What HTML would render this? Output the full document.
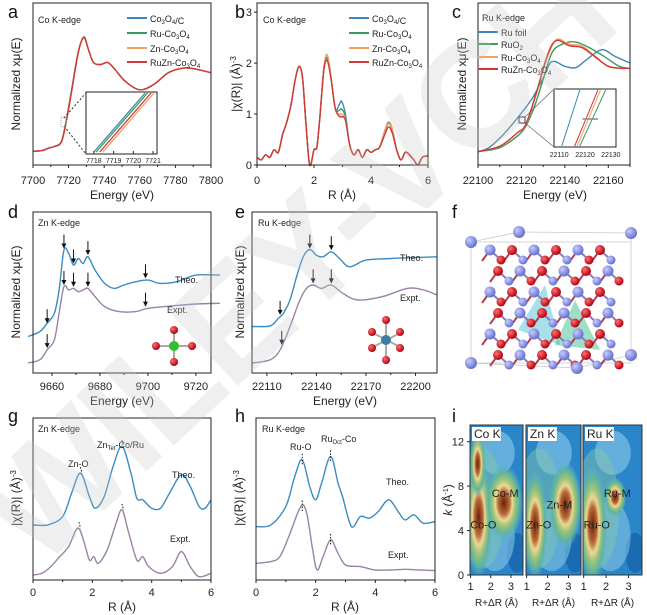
<!DOCTYPE html>
<html><head><meta charset="utf-8">
<style>
body{margin:0;background:#fff;}
svg{display:block;font-family:"Liberation Sans",sans-serif;}
.tk{font-size:11px;fill:#222;}
.tt{font-size:12px;fill:#222;}
.sm{font-size:9px;fill:#222;}
.pl{font-size:18px;fill:#111;}
</style></head>
<body>
<svg id="fig" width="647" height="615" viewBox="0 0 647 615" xmlns="http://www.w3.org/2000/svg">
<defs>
<radialGradient id="hot" cx="50%" cy="50%" r="50%">
<stop offset="0" stop-color="#6a2008"/><stop offset="0.3" stop-color="#b86a38"/><stop offset="0.45" stop-color="#ecd896"/><stop offset="0.6" stop-color="#9ec47a"/><stop offset="0.78" stop-color="#62b498"/><stop offset="1" stop-color="#58b0d8" stop-opacity="0"/>
</radialGradient>
<radialGradient id="ball-b" cx="35%" cy="35%" r="65%"><stop offset="0" stop-color="#c8ccff"/><stop offset="1" stop-color="#6670d0"/></radialGradient>
<radialGradient id="ball-r" cx="35%" cy="35%" r="65%"><stop offset="0" stop-color="#ff7070"/><stop offset="1" stop-color="#b00010"/></radialGradient>
<clipPath id="ci1"><rect x="470" y="425" width="53" height="150"/></clipPath>
<clipPath id="ci2"><rect x="526" y="425" width="55" height="150"/></clipPath>
<clipPath id="ci3"><rect x="583" y="425" width="59" height="150"/></clipPath>
</defs>
<g id="root"></g>
</svg>
<script>
// ---------- data ----------
const aX=[7700,7705,7709,7712,7716,7719,7722,7725,7727,7729,7731,7734,7738,7742,7746,7752,7760,7768,7776,7785,7792,7800];
const aCo=[0,0.01,0.05,0.07,0.15,0.5,0.95,1.4,1.6,1.66,1.5,1.3,1.27,1.3,1.2,1.02,0.9,0.98,1.15,1.22,1.2,1.15];
const aRu=[0,0.01,0.05,0.07,0.15,0.49,0.94,1.4,1.6,1.65,1.5,1.3,1.27,1.3,1.2,1.02,0.9,0.98,1.15,1.22,1.2,1.15];
const aZn=[0,0.01,0.05,0.07,0.14,0.47,0.92,1.38,1.6,1.66,1.5,1.3,1.27,1.3,1.2,1.02,0.9,0.98,1.15,1.22,1.2,1.15];
const aRuZn=[0,0.01,0.05,0.07,0.14,0.48,0.93,1.39,1.6,1.67,1.5,1.3,1.27,1.3,1.2,1.02,0.9,0.98,1.15,1.22,1.2,1.15];
const aInsetX=[7718,7720.6];
const aInsetOff=[0,0.12,0.3,0.45];

const bX=[0,0.15,0.3,0.45,0.6,0.75,0.9,1.05,1.2,1.35,1.48,1.6,1.72,1.85,2.0,2.1,2.2,2.35,2.47,2.6,2.75,2.9,2.97,3.1,3.25,3.4,3.55,3.7,3.85,4.0,4.15,4.3,4.5,4.62,4.75,4.9,5.05,5.2,5.35,5.5,5.65,5.8,6];
const bCo=[0.15,0.1,0.2,0.15,0.3,0.25,0.6,0.85,1.2,1.7,1.93,1.7,0.8,0.0,0.3,0.35,0.9,1.9,2.08,1.7,1.1,1.2,1.25,1.0,0.4,0.2,0.3,0.15,0.3,0.25,0.3,0.35,0.7,0.85,0.7,0.3,0.1,0.25,0.2,0.1,0.0,0.15,0.18];
const bRu=[0.15,0.1,0.2,0.15,0.3,0.25,0.6,0.85,1.2,1.7,1.93,1.7,0.8,0.0,0.3,0.35,0.9,1.92,2.1,1.7,1.1,1.08,1.1,0.95,0.4,0.2,0.3,0.15,0.3,0.25,0.3,0.35,0.68,0.82,0.68,0.3,0.1,0.25,0.2,0.1,0.0,0.15,0.18];
const bZn=[0.15,0.1,0.2,0.15,0.3,0.25,0.6,0.85,1.2,1.7,1.95,1.7,0.8,0.0,0.3,0.35,0.9,1.95,2.16,1.72,1.1,1.0,1.0,0.9,0.4,0.2,0.3,0.15,0.3,0.25,0.3,0.35,0.7,0.85,0.7,0.3,0.1,0.25,0.2,0.1,0.0,0.15,0.18];
const bRuZn=[0.15,0.1,0.2,0.15,0.3,0.25,0.6,0.85,1.2,1.7,1.93,1.7,0.8,0.0,0.3,0.35,0.9,1.88,2.04,1.68,1.1,0.95,0.95,0.88,0.4,0.2,0.3,0.15,0.3,0.25,0.3,0.35,0.62,0.75,0.62,0.3,0.1,0.25,0.2,0.1,0.0,0.15,0.18];

const cFoilX=[22100,22105,22110,22115,22120,22125,22130,22134,22140,22145,22150,22157,22163,22170];
const cFoil=[0.02,0.08,0.22,0.4,0.6,0.82,1.12,1.37,1.3,1.28,1.4,1.55,1.45,1.35];
const cOxX=[22100,22110,22118,22122,22126,22130,22134,22138,22144,22150,22158,22165,22170];
const cOx=[0.02,0.08,0.25,0.4,0.7,1.1,1.5,1.62,1.67,1.6,1.45,1.3,1.27];
const cRuX=[22100,22110,22118,22122,22127,22131,22134,22137,22142,22148,22154,22160,22166,22170];
const cRu=[0.02,0.1,0.3,0.42,0.9,1.35,1.6,1.71,1.63,1.6,1.45,1.3,1.27,1.27];
const cRuZn=[0.02,0.1,0.3,0.43,0.92,1.37,1.62,1.69,1.61,1.58,1.44,1.3,1.27,1.27];

const dTheoX=[9650,9655,9658,9661,9663,9665,9667,9669,9671,9673,9675,9678,9682,9686,9690,9695,9700,9705,9712,9720,9730];
const dTheo=[1.10,1.25,1.5,1.8,2.5,3.7,3.6,3.25,3.45,3.3,3.5,3.1,2.7,2.55,2.65,2.75,2.8,2.7,2.75,2.95,2.95];
const dExpX=[9650,9655,9658,9661,9663,9665,9667,9669,9671,9673,9675,9678,9682,9688,9695,9700,9710,9720,9730];
const dExp=[0.3,0.4,0.7,1.0,1.8,2.6,2.5,2.55,2.45,2.5,2.55,2.3,2.0,1.85,1.85,1.95,2.02,2.08,2.1];
const dArrX=[9658,9665,9669,9675,9699,9658,9665,9669,9675,9699];
const dArrY=[1.5,3.75,3.3,3.55,2.85,0.75,2.65,2.6,2.6,2.0];

const eTheoX=[22101,22112,22117,22120,22124,22128,22132,22136,22140,22144,22149,22154,22160,22170,22185,22213];
const eTheo=[1.4,1.42,1.65,1.8,2.2,2.9,3.5,3.72,3.55,3.5,3.65,3.45,3.2,3.4,3.45,3.5];
const eExpX=[22101,22112,22118,22124,22130,22134,22138,22143,22149,22156,22165,22180,22195,22205,22213];
const eExp=[0.3,0.4,0.7,1.4,2.2,2.55,2.65,2.55,2.65,2.4,2.2,2.3,2.55,2.5,2.35];
const eArrX=[22118,22136,22149,22119,22138,22149];
const eArrY=[1.75,3.75,3.7,0.85,2.7,2.7];

const gX=[0,0.5,1.0,1.3,1.6,1.9,2.1,2.4,2.7,3.0,3.3,3.5,3.7,4.0,4.3,4.6,5.0,5.3,5.6,5.8,6.0];
const gTheo=[1.65,1.65,1.9,2.6,3.2,2.5,2.15,2.5,3.4,4.0,3.2,2.45,2.4,2.15,2.15,2.6,3.15,2.8,2.2,2.15,2.4];
const gExpX=[0,0.3,0.6,0.9,1.2,1.5,1.7,1.9,2.05,2.2,2.5,2.8,3.0,3.2,3.5,3.7,3.9,4.3,4.7,5.0,5.3,5.6,6];
const gExp=[0.15,0.2,0.4,0.7,1.0,1.55,1.2,0.6,0.7,0.5,0.9,1.7,2.1,1.5,0.6,0.7,0.4,0.2,0.4,0.85,0.4,0.1,0.2];

const hTheoX=[0,0.5,1.0,1.3,1.55,1.8,2.0,2.2,2.5,2.75,2.9,3.2,3.5,3.8,4.1,4.45,4.8,5.0,5.3,5.6,6.0];
const hTheo=[1.6,1.65,2.2,3.1,3.6,2.8,2.4,2.9,3.7,2.9,2.5,1.6,1.9,1.85,2.05,2.4,2.0,1.8,1.95,1.7,1.75];
const hExpX=[0,0.5,0.8,1.1,1.5,1.7,1.9,2.05,2.25,2.5,2.75,3.0,3.5,4.0,4.5,5,5.5,6];
const hExp=[0.5,0.55,0.7,1.3,2.2,2.0,0.9,0.3,0.7,1.2,0.8,0.45,0.4,0.3,0.3,0.32,0.3,0.28];

// wavelet blobs: R, k, rR, rk
const iCoR=[1.4,2.65,1.35];const iCoK=[5.2,6.5,10];const iCoRR=[0.7,0.95,0.4];const iCoRK=[5.5,3.5,3];
const iZnR=[1.4,2.85];const iZnK=[4.5,6.3];const iZnRR=[0.6,0.8];const iZnRK=[5,4];
const iRuR=[1.4,2.4];const iRuK=[4.5,7];const iRuRR=[0.65,0.5];const iRuRK=[5.5,1.8];

// ---------- drawing ----------
const NS="http://www.w3.org/2000/svg";
const root=document.getElementById('root');
function el(tag,attrs,parent){const e=document.createElementNS(NS,tag);for(const k in attrs)e.setAttribute(k,attrs[k]);(parent||root).appendChild(e);return e;}
function scale(d0,d1,r0,r1){return v=>r0+(v-d0)/(d1-d0)*(r1-r0);}
function smooth(p){let d='M'+p[0][0].toFixed(1)+','+p[0][1].toFixed(1);for(let i=0;i<p.length-1;i++){const p0=p[i-1]||p[i],p1=p[i],p2=p[i+1],p3=p[i+2]||p2;const c1=[p1[0]+(p2[0]-p0[0])/6,p1[1]+(p2[1]-p0[1])/6],c2=[p2[0]-(p3[0]-p1[0])/6,p2[1]-(p3[1]-p1[1])/6];d+='C'+c1.map(v=>v.toFixed(1))+' '+c2.map(v=>v.toFixed(1))+' '+p2.map(v=>v.toFixed(1));}return d;}
function series(sx,sy,xs,ys,color,name,w){const p=el('path',{d:smooth(xs.map((x,i)=>[sx(x),sy(ys[i])])),fill:'none',stroke:color,'stroke-width':w||1.4});

return p;}
function txt(x,y,s,cls,name,anchor,extra){const t=el('text',Object.assign({x:x,y:y,class:cls,'text-anchor':anchor||'start'},extra||{}));t.innerHTML=s;

return t;}
function frame(x0,y0,x1,y1,name){const r=el('rect',{x:x0,y:y0,width:x1-x0,height:y1-y0,fill:'none',stroke:'#222','stroke-width':1});

}
function xticks(sx,vals,y,ly,name,minor){vals.forEach(v=>{el('line',{x1:sx(v),x2:sx(v),y1:y,y2:y+3,stroke:'#222'});const t=txt(sx(v),ly,String(v),'tk',name,'middle');});(minor||[]).forEach(v=>el('line',{x1:sx(v),x2:sx(v),y1:y,y2:y+2,stroke:'#222'}));}
function yticks(sy,vals,x,name){vals.forEach(v=>{el('line',{x1:x,x2:x-3,y1:sy(v),y2:sy(v),stroke:'#222'});txt(x-5,sy(v)+4,String(v),'tk',name,'end');});}
function ytitle(x,y,s,name){txt(x,y,s,'tt',name,'middle',{transform:`rotate(-90 ${x} ${y})`});}
function legend(x,y,color,s,name){el('line',{x1:x,x2:x+20,y1:y,y2:y,stroke:color,'stroke-width':2});txt(x+23,y+4,s,'sm',name);}
const CO='Co<tspan font-size="6" dy="2">3</tspan><tspan dy="-2">O</tspan><tspan font-size="6" dy="2">4</tspan>';
const BLUE='#3f86b4',GREEN='#3d9a5e',ORANGE='#f0a060',RED='#d23838',PURP='#9b82a8',THEO='#3a8cc2';

// panel letters
[['a',8,18],['b',235,18],['c',452,18],['d',8,218],['e',235,218],['f',452,218],['g',8,422],['h',235,422],['i',452,422]].forEach(p=>txt(p[1],p[2],p[0],'pl','panel-label-'+p[0]));

// ----- panel a -----
{const sx=scale(7700,7800,33,211),sy=scale(-0.2,2.17,165,3);
series(sx,sy,aX,aCo,BLUE,'a-series-co3o4-c');series(sx,sy,aX,aRu,GREEN,'a-series-ru-co3o4');series(sx,sy,aX,aZn,ORANGE,'a-series-zn-co3o4');series(sx,sy,aX,aRuZn,RED,'a-series-ruzn-co3o4');
frame(33,3,211,165,'a-plot-frame');xticks(sx,[7700,7720,7740,7760,7780,7800],165,184,'a-x-tick',[7710,7730,7750,7770,7790]);
txt(122,199,'Energy (eV)','tt','a-x-axis-title','middle');ytitle(20,84,'Normalized xμ(E)','a-y-axis-title');
txt(38,23,'Co K-edge','sm','a-edge-title');
legend(127,18,BLUE,CO+'/C','a-legend-co3o4c');legend(127,33,GREEN,'Ru-'+CO,'a-legend-ru');legend(127,48,ORANGE,'Zn-'+CO,'a-legend-zn');legend(127,62,RED,'RuZn-'+CO,'a-legend-ruzn');
const ix=scale(7717.6,7721.2,86,157),iy=scale(0,1,152,93);
el('rect',{x:86,y:92,width:71,height:62,fill:'#fff',stroke:'#222'});
el('line',{x1:64,y1:118,x2:86,y2:93,stroke:'#333','stroke-dasharray':'2,2'});el('line',{x1:64,y1:126,x2:86,y2:154,stroke:'#333','stroke-dasharray':'2,2'});
el('rect',{x:61,y:117,width:5,height:10,fill:'none',stroke:'#aaa','stroke-dasharray':'1,1'});
[BLUE,GREEN,RED,ORANGE].forEach((c,i)=>{el('line',{x1:ix(aInsetX[0]+aInsetOff[i]),y1:iy(0),x2:ix(aInsetX[1]+aInsetOff[i]),y2:iy(1),stroke:c,'stroke-width':1.3});});
[7718,7719,7720,7721].forEach(v=>{el('line',{x1:ix(v),x2:ix(v),y1:154,y2:151,stroke:'#222'});txt(ix(v),163,String(v),'sm','a-inset-x-tick','middle',{style:'font-size:7px'});});}

// ----- panel b -----
{const sx=scale(0,6,257,428),sy=scale(0,3.18,165,3);
series(sx,sy,bX,bCo,BLUE,'b-series-co3o4-c');series(sx,sy,bX,bRu,GREEN,'b-series-ru-co3o4');series(sx,sy,bX,bZn,ORANGE,'b-series-zn-co3o4');series(sx,sy,bX,bRuZn,RED,'b-series-ruzn-co3o4');
frame(257,3,428,165,'b-plot-frame');xticks(sx,[0,2,4,6],165,184,'b-x-tick',[1,3,5]);yticks(sy,[0,1,2,3],257,'b-y-tick');
txt(342,199,'R (Å)','tt','b-x-axis-title','middle');ytitle(240,84,'|χ(R)| (Å)<tspan font-size="8" dy="-4">-3</tspan>','b-y-axis-title');
txt(263,23,'Co K-edge','sm','b-edge-title');
legend(349,18,BLUE,CO+'/C','b-legend-co3o4c');legend(349,33,GREEN,'Ru-'+CO,'b-legend-ru');legend(349,48,ORANGE,'Zn-'+CO,'b-legend-zn');legend(349,62,RED,'RuZn-'+CO,'b-legend-ruzn');}

// ----- panel c -----
{const sx=scale(22100,22170,478,630),sy=scale(-0.18,2.25,165,3);
series(sx,sy,cFoilX,cFoil,BLUE,'c-series-ru-foil');series(sx,sy,cOxX,cOx,GREEN,'c-series-ruo2');series(sx,sy,cRuX,cRu,ORANGE,'c-series-ru-co3o4');series(sx,sy,cRuX,cRuZn,RED,'c-series-ruzn-co3o4');
frame(478,3,630,165,'c-plot-frame');xticks(sx,[22100,22120,22140,22160],165,184,'c-x-tick',[22110,22130,22150,22170]);
txt(555,199,'Energy (eV)','tt','c-x-axis-title','middle');ytitle(466,84,'Normalized xμ(E)','c-y-axis-title');
txt(482,21,'Ru K-edge','sm','c-edge-title');
legend(478,32,BLUE,'Ru foil','c-legend-ru-foil');legend(478,44,GREEN,'RuO<tspan font-size="6" dy="2">2</tspan>','c-legend-ruo2');legend(478,57,ORANGE,'Ru-'+CO,'c-legend-ru-co3o4');legend(478,69,RED,'RuZn-'+CO,'c-legend-ruzn');
el('rect',{x:554,y:89,width:62,height:58,fill:'#fff',stroke:'#222'});
el('rect',{x:519,y:117,width:6,height:6,fill:'none',stroke:'#333'});
el('line',{x1:525,y1:117,x2:554,y2:89,stroke:'#555','stroke-width':0.6});el('line',{x1:525,y1:123,x2:554,y2:147,stroke:'#555','stroke-width':0.6});
const ix=scale(22108,22132,554,616);
[[22111,22118,BLUE],[22116,22125,RED],[22117,22126,ORANGE],[22118,22128,GREEN]].forEach(s=>el('line',{x1:ix(s[0]),y1:146,x2:ix(s[1]),y2:90,stroke:s[2],'stroke-width':1}));
el('line',{x1:ix(22125),x2:ix(22119),y1:119,y2:119,stroke:'#888','stroke-width':1.5});
[22110,22120,22130].forEach(v=>txt(ix(v),157,String(v),'sm','c-inset-x-tick','middle',{style:'font-size:7px'}));}

function arrow(x,y,name){const g=el('g',{});el('line',{x1:x,x2:x,y1:y-14,y2:y-2,stroke:'#111','stroke-width':1},g);el('path',{d:`M${x-2.5},${y-5}L${x},${y}L${x+2.5},${y-5}Z`,fill:'#111'},g);

}

// ----- panel d -----
{const sx=scale(9652.1,9726.3,33,211),sy=scale(0,4.85,373,212);
series(sx,sy,dTheoX,dTheo,THEO,'d-series-theo');series(sx,sy,dExpX,dExp,PURP,'d-series-expt');
dArrX.forEach((x,i)=>arrow(sx(x),sy(dArrY[i]),'d-arrow'));
frame(33,212,211,373,'d-plot-frame');xticks(sx,[9660,9680,9700,9720],373,390,'d-x-tick',[9670,9690,9710]);
txt(122,405,'Energy (eV)','tt','d-x-axis-title','middle');ytitle(20,292,'Normalized xμ(E)','d-y-axis-title');
txt(38,226,'Zn K-edge','sm','d-edge-title');txt(175,283,'Theo.','sm','d-label-theo');txt(167,313,'Expt.','sm','d-label-expt');
el('line',{x1:174,y1:331,x2:174,y2:361,stroke:'#aaa','stroke-width':2});el('line',{x1:157,y1:346,x2:191,y2:346,stroke:'#aaa','stroke-width':2});
[[174,330],[174,362],[156,346],[192,346]].forEach(p=>el('circle',{cx:p[0],cy:p[1],r:4,fill:'url(#ball-r)'}));el('circle',{cx:174,cy:346,r:5,fill:'#30c030'});}

// ----- panel e -----
{const sx=scale(22101,22213,252,437),sy=scale(0,4.85,373,212);
series(sx,sy,eTheoX,eTheo,THEO,'e-series-theo');series(sx,sy,eExpX,eExp,PURP,'e-series-expt');
eArrX.forEach((x,i)=>arrow(sx(x),sy(eArrY[i]),'e-arrow'));
frame(252,212,437,373,'e-plot-frame');xticks(sx,[22110,22140,22170,22200],373,390,'e-x-tick',[22125,22155,22185]);
txt(345,405,'Energy (eV)','tt','e-x-axis-title','middle');ytitle(244,292,'Normalized xμ(E)','e-y-axis-title');
txt(258,226,'Ru K-edge','sm','e-edge-title');txt(400,261,'Theo.','sm','e-label-theo');txt(400,301,'Expt.','sm','e-label-expt');
el('line',{x1:386,y1:322,x2:386,y2:358,stroke:'#aaa','stroke-width':2});el('line',{x1:373,y1:333,x2:400,y2:347,stroke:'#aaa','stroke-width':2});el('line',{x1:373,y1:347,x2:400,y2:333,stroke:'#aaa','stroke-width':2});
[[386,320],[386,360],[372,332],[400,332],[372,348],[400,348]].forEach(p=>el('circle',{cx:p[0],cy:p[1],r:4,fill:'url(#ball-r)'}));el('circle',{cx:386,cy:340,r:5,fill:'#3a7fa0'});}

// ----- panel f (structure) -----
{const g=el('g',{});
const L=(a,b,c,d,col,w)=>el('line',{x1:a,y1:b,x2:c,y2:d,stroke:col||'#c8c8c8','stroke-width':w||0.8},g);
L(471,242,631,242);L(471,242,471,363);L(471,363,631,363);L(631,242,631,363);L(471,242,519,232);L(631,242,631,233);L(519,232,631,233);L(471,363,577,368);L(577,368,631,355);
el('path',{d:'M518,330L545,285L560,345Z',fill:'#50c0d8','fill-opacity':0.5},g);el('path',{d:'M555,345L575,300L600,350Z',fill:'#40c090','fill-opacity':0.5},g);
const pts=[];for(let r=0;r<6;r++)for(let c=0;c<6;c++){const x=490+c*22+(r%2)*8,y=250+r*21;pts.push([x,y,(r+c)%2]);}
pts.forEach(p=>{L(p[0],p[1],p[0]+11,p[1]+10,'#8a7ab8',2);L(p[0],p[1],p[0]-8,p[1]+11,'#b04050',2);});
pts.forEach(p=>{el('circle',{cx:p[0],cy:p[1],r:p[2]?5:5.5,fill:p[2]?'url(#ball-r)':'url(#ball-b)'},g);el('circle',{cx:p[0]+11,cy:p[1]+10,r:4.5,fill:(p[2]?'url(#ball-b)':'url(#ball-r)')},g);});
[[471,242],[519,232],[631,233],[471,363],[631,355],[577,368]].forEach(p=>el('circle',{cx:p[0],cy:p[1],r:6,fill:'url(#ball-b)'},g));}

// ----- panel g -----
{const sx=scale(0,6,33,211),sy=scale(0,4.85,580,418);
series(sx,sy,gX,gTheo,THEO,'g-series-theo');series(sx,sy,gExpX,gExp,PURP,'g-series-expt');
[[1.6,3.2],[3.0,4.0],[1.55,1.55],[3.0,2.1]].forEach(p=>el('line',{x1:sx(p[0]),x2:sx(p[0]+0.05),y1:sy(p[1])-6,y2:sy(p[1]),stroke:'#111','stroke-dasharray':'1.5,1.5'}));
frame(33,418,211,580,'g-plot-frame');xticks(sx,[0,2,4,6],580,596,'g-x-tick',[1,3,5]);
txt(122,611,'R (Å)','tt','g-x-axis-title','middle');ytitle(20,498,'|χ(R)| (Å)<tspan font-size="8" dy="-4">-3</tspan>','g-y-axis-title');
txt(38,432,'Zn K-edge','sm','g-edge-title');txt(68,467,'Zn-O','sm','g-label-zn-o');
txt(97,448,'Zn<tspan font-size="6" dy="2">Tet</tspan><tspan dy="-2">-Co/Ru</tspan>','sm','g-label-zntet');
txt(172,478,'Theo.','sm','g-label-theo');txt(170,542,'Expt.','sm','g-label-expt');}

// ----- panel h -----
{const sx=scale(0,6,256,435),sy=scale(0,4.85,580,418);
series(sx,sy,hTheoX,hTheo,THEO,'h-series-theo');series(sx,sy,hExpX,hExp,PURP,'h-series-expt');
[[1.55,3.6],[2.5,3.7],[1.55,2.2],[2.5,1.2]].forEach(p=>el('line',{x1:sx(p[0]),x2:sx(p[0]),y1:sy(p[1])-6,y2:sy(p[1])+6,stroke:'#111','stroke-dasharray':'1.5,1.5'}));
frame(256,418,435,580,'h-plot-frame');xticks(sx,[0,2,4,6],580,596,'h-x-tick',[1,3,5]);
txt(345,611,'R (Å)','tt','h-x-axis-title','middle');ytitle(243,498,'|χ(R)| (Å)<tspan font-size="8" dy="-4">-3</tspan>','h-y-axis-title');
txt(262,432,'Ru K-edge','sm','h-edge-title');txt(290,450,'Ru-O','sm','h-label-ru-o');
txt(321,442,'Ru<tspan font-size="6" dy="2">Oct</tspan><tspan dy="-2">-Co</tspan>','sm','h-label-ruoct');
txt(386,485,'Theo.','sm','h-label-theo');txt(388,558,'Expt.','sm','h-label-expt');}

// ----- panel i -----
function wt(x0,x1,clip,Rs,Ks,RR,RK,title,lab,name){const sx=scale(0.97,3.6,x0,x1),sy=scale(0,13.5,575,425);const g=el('g',{'clip-path':`url(#${clip})`});

el('rect',{x:x0,y:425,width:x1-x0,height:150,fill:'#2a86c8'},g);
el('ellipse',{cx:sx(2.3),cy:sy(11),rx:18,ry:22,fill:'#8ccbea','fill-opacity':0.6},g);el('ellipse',{cx:sx(3.3),cy:sy(2),rx:10,ry:20,fill:'#1560a8','fill-opacity':0.7},g);
el('ellipse',{cx:sx(2.2),cy:sy(3.5),rx:20,ry:35,fill:'#8ccbea','fill-opacity':0.55},g);
el('ellipse',{cx:sx(1.6),cy:sy(6),rx:22,ry:60,fill:'#86c8a8','fill-opacity':0.45},g);
Rs.forEach((r,i)=>el('ellipse',{cx:sx(r),cy:sy(Ks[i]),rx:sx(r+RR[i])-sx(r),ry:sy(Ks[i])-sy(Ks[i]+RK[i]),fill:'url(#hot)'},g));
el('rect',{x:x0,y:425,width:x1-x0,height:150,fill:'none',stroke:'#333'});
el('rect',{x:x0+2,y:427,width:title.length*6.2+4,height:14,fill:'#fff'});txt(x0+4,438,title,'tt','i-panel-title');
lab.forEach(l=>txt(sx(l[0]),sy(l[1]),l[2],'tt','i-peak-label','start',{style:'font-size:11px'}));
[1,2,3].forEach(v=>{el('line',{x1:sx(v),x2:sx(v),y1:575,y2:578,stroke:'#222'});txt(sx(v),590,String(v),'tk','i-x-tick','middle');});
txt((x0+x1)/2,606,'R+ΔR (Å)','sm','i-x-axis-title','middle',{style:'font-size:10px'});return sy;}
{const sy=wt(470,523,'ci1',iCoR,iCoK,iCoRR,iCoRK,'Co K',[[0.98,4.2,'Co-O'],[2.05,7.0,'Co-M']],'i-wt-co');
[0,4,8,12].forEach(v=>{el('line',{x1:470,x2:467,y1:sy(v),y2:sy(v),stroke:'#222'});txt(464,sy(v)+4,String(v),'tk','i-y-tick','end');});
ytitle(452,500,'<tspan font-style="italic">k</tspan> (Å<tspan font-size="7" dy="-4">-1</tspan><tspan dy="4">)</tspan>','i-y-axis-title');}
wt(526,581,'ci2',iZnR,iZnK,iZnRR,iZnRK,'Zn K',[[0.98,4.2,'Zn-O'],[1.95,6.0,'Zn-M']],'i-wt-zn');
wt(583,642,'ci3',iRuR,iRuK,iRuRR,iRuRK,'Ru K',[[1.0,4.2,'Ru-O'],[1.9,7.0,'Ru-M']],'i-wt-ru');

// watermark
{txt(330,300,'WILEY-VCH','tt','watermark','middle',{transform:'rotate(-43 330 300)',style:'font-size:150px;font-weight:bold;fill:#c4c4c4;fill-opacity:0.28;letter-spacing:-4px'});}
</script>
</body></html>
